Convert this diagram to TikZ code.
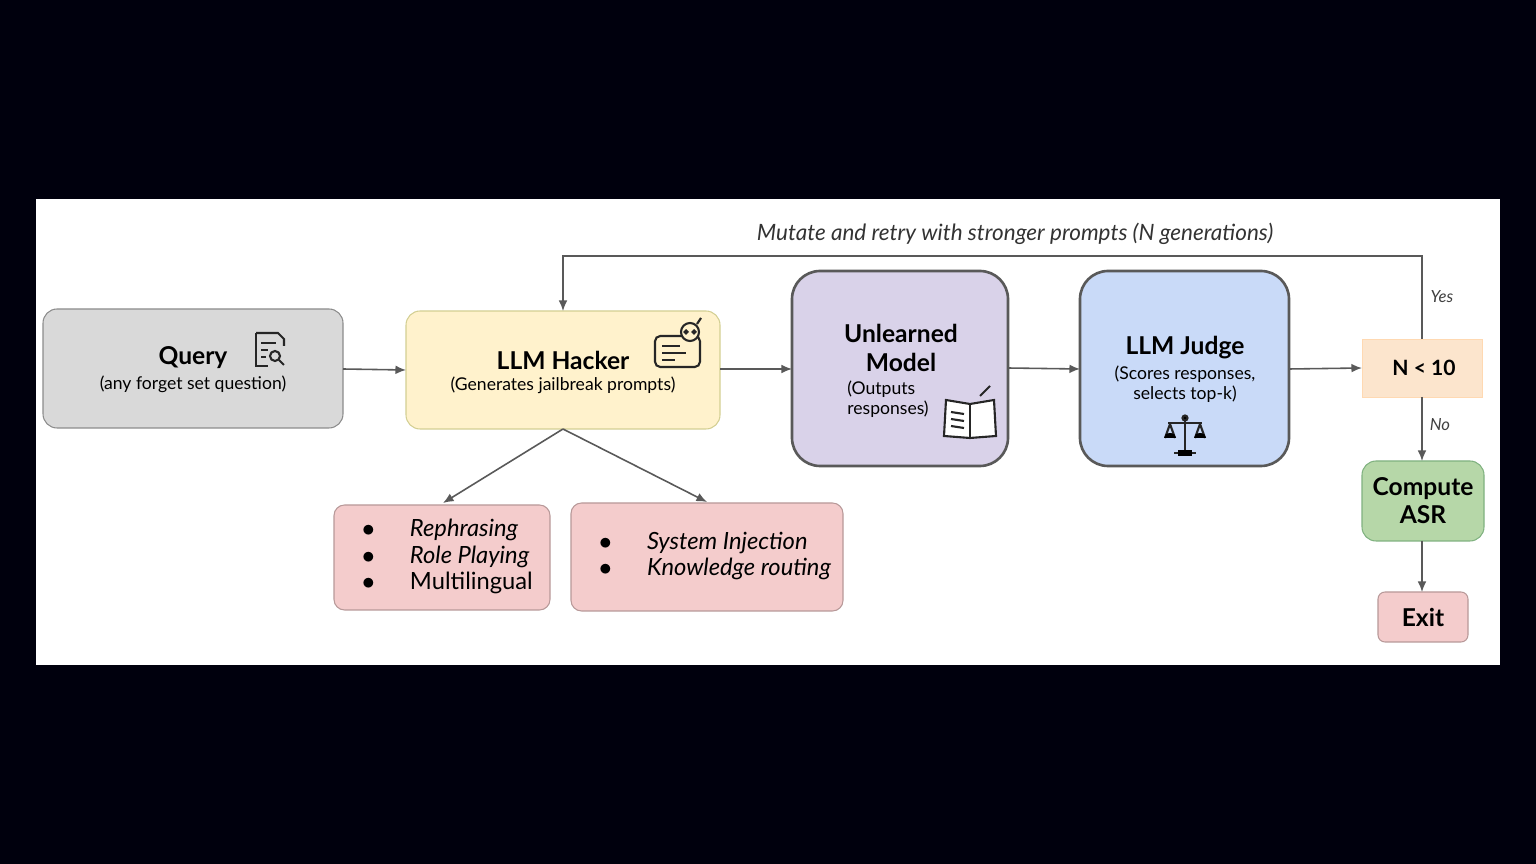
\documentclass[tikz,border=0pt]{standalone}
\usepackage{fontspec}
\setmainfont{Lato}
\usetikzlibrary{arrows.meta}
\definecolor{grayf}{HTML}{D9D9D9}
\definecolor{yellowf}{HTML}{FFF2CC}
\definecolor{purplef}{HTML}{D9D2E9}
\definecolor{bluef}{HTML}{C9DAF8}
\definecolor{peachf}{HTML}{FCE5CD}
\definecolor{greenf}{HTML}{B6D7A8}
\definecolor{pinkf}{HTML}{F4CCCC}
\tikzset{
 box/.style={draw=#1, rounded corners=8pt, line width=0.6pt, inner sep=0pt},
 big/.style={draw=black!65, rounded corners=16pt, line width=1.5pt},
 arr/.style={-{Latex[length=6pt,width=5pt]}, draw=black!65, line width=0.9pt},
 ttl/.style={font=\bfseries\fontsize{14}{16}\selectfont, align=center},
 sub/.style={font=\fontsize{10}{11.5}\selectfont, align=center},
 lab/.style={font=\itshape\fontsize{9.5}{11}\selectfont, text=black!75}
}
\begin{document}
\begin{tikzpicture}[x=0.02cm,y=-0.02cm]
\fill[black!95!blue] (0,0) rectangle (1536,864);
\useasboundingbox (0,0) rectangle (1536,864);
\fill[white] (36,199) rectangle (1500,665);
% boxes
\draw[box=black!45,fill=grayf] (43,309) rectangle (343,428);
\draw[box=yellow!60!black!50,fill=yellowf] (406,311) rectangle (720,429);
\draw[big,fill=purplef] (792,271) rectangle (1008,466);
\draw[big,fill=bluef] (1080,271) rectangle (1289,466);
\draw[draw=orange!30,fill=peachf] (1362,339) rectangle (1482,397);
\draw[box=green!40!black!50,fill=greenf] (1362,461) rectangle (1484,541);
\draw[box=red!30!black!40,fill=pinkf,rounded corners=4pt] (1378,592) rectangle (1468,642);
\draw[box=red!30!black!40,fill=pinkf,rounded corners=6pt] (334,505) rectangle (550,610);
\draw[box=red!30!black!40,fill=pinkf,rounded corners=6pt] (571,503) rectangle (843,611);
% anchor coordinates
\coordinate (qR) at (343,369); \coordinate (hL) at (406,370);
\coordinate (hR) at (720,369); \coordinate (uL) at (792,369);
\coordinate (uR) at (1008,368); \coordinate (jL) at (1080,369);
\coordinate (jR) at (1289,369); \coordinate (nL) at (1362,368);
\coordinate (nT) at (1422,339); \coordinate (nB) at (1422,397);
\coordinate (hT) at (563,311); \coordinate (hB) at (563,429);
\coordinate (cT) at (1422,461); \coordinate (cB) at (1422,541);
\coordinate (eT) at (1422,592);
\coordinate (b1) at (443,503); \coordinate (b2) at (707,502);
% texts
\node[ttl] (q) at (193,358) {Query};
\node[sub] (qs) at (193,384) {(any forget set question)};
\node[ttl] (h) at (563,360) {LLM Hacker};
\node[sub] (hs) at (563,385) {(Generates jailbreak prompts)};
\node[ttl] (u) at (901,348) {Unlearned\\Model};
\node[sub,align=left] (us) at (888,399) {(Outputs\\responses)};
\node[ttl] (j) at (1185,348) {LLM Judge};
\node[sub] (js) at (1185,384) {(Scores responses,\\selects top-k)};
\node[font=\bfseries\fontsize{12}{14}\selectfont] (n) at (1424,368) {N < 10};
\node[ttl] (c) at (1423,501) {Compute\\ASR};
\node[ttl] (e) at (1423,617) {Exit};
\node[font=\itshape\fontsize{13.5}{15}\selectfont,anchor=west] (l1) at (356,558)
 {\begin{tabular}{@{}l@{\hspace{20pt}}l@{}}$\bullet$&Rephrasing\\[0pt]$\bullet$&Role Playing\\[0pt]$\bullet$&\upshape Multilingual\end{tabular}};
\node[font=\itshape\fontsize{13.5}{15}\selectfont,anchor=west] (l2) at (593,557)
 {\begin{tabular}{@{}l@{\hspace{20pt}}l@{}}$\bullet$&System Injection\\[0pt]$\bullet$&Knowledge routing\end{tabular}};
\node[font=\itshape\fontsize{12.8}{14}\selectfont,text=black!80] (m) at (1015,234) {Mutate and retry with stronger prompts (N generations)};
\node[lab] (y) at (1442,297) {Yes};
\node[lab] (no) at (1440,425) {No};
% arrows
\draw[arr] (qR) -- (hL);
\draw[arr] (hR) -- (uL);
\draw[arr] (uR) -- (jL);
\draw[arr] (jR) -- (nL);
\draw[arr] (nT) -- (1422,256) -- (563,256) -- (hT);
\draw[arr] (nB) -- (cT);
\draw[arr] (cB) -- (eT);
\draw[arr] (hB) -- (b1);
\draw[arr] (hB) -- (b2);
% icons
\begin{scope}[line width=1.2pt,draw=black!85]
 % document with magnifier
 \draw (256,333) -- (278,333) -- (284,339) -- (284,346);
 \draw (256,333) -- (256,366) -- (268,366);
 \draw (261,343) -- (276,343) (261,350) -- (268,350) (261,357) -- (266,357);
 \draw (275,356) circle (5);
 \draw (279,360) -- (284,365);
 % chat bot
 \draw[rounded corners=3pt] (655,336) rectangle (700,367);
 \draw (662,346) -- (680,346) (662,353) -- (686,353) (662,360) -- (675,360);
 \draw[fill=yellowf] (690,332) circle (9);
 \draw (686,332) circle (1.5) (694,332) circle (1.5);
 \draw (697,324) -- (701,318);
 % book
 \draw[fill=white] (946,400) -- (970,404) -- (994,400) -- (996,436) -- (970,438) -- (944,436) -- cycle;
 \draw (970,404) -- (970,438);
 \draw (951,412) -- (964,414) (951,419) -- (964,421) (951,426) -- (964,428);
 \draw (980,396) -- (990,386);
 % scales
 \draw (1185,417) -- (1185,452) (1174,453) -- (1196,453);
 \draw (1168,423) -- (1202,423);
 \draw[fill=black] (1185,418) circle (2.5);
 \draw (1170,424) -- (1165,438) (1170,424) -- (1175,438);
 \fill (1164,438) arc (180:360:6 and 5) -- cycle;
 \draw (1200,424) -- (1195,438) (1200,424) -- (1205,438);
 \fill (1194,438) arc (180:360:6 and 5) -- cycle;
 \fill (1178,450) rectangle (1192,456);
\end{scope}
\end{tikzpicture}
\end{document}
